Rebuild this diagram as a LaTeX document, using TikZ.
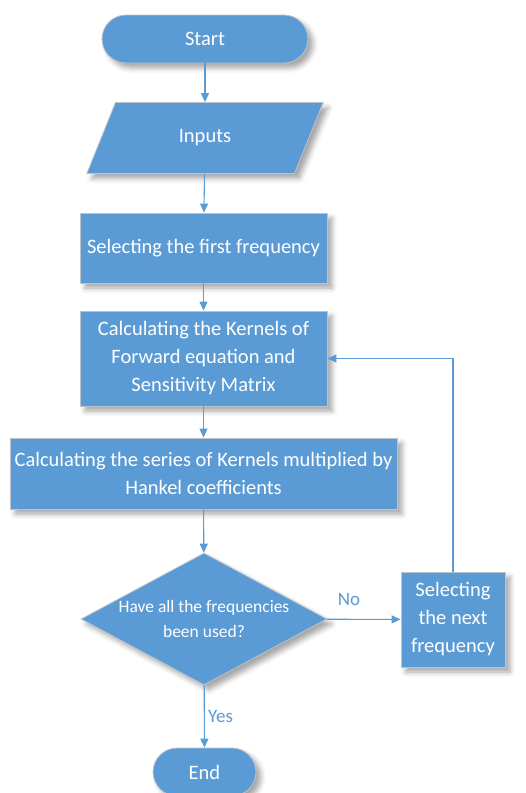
\documentclass[tikz,border=0pt]{standalone}
\usepackage{fontspec}
\setmainfont{Carlito}
\usetikzlibrary{shapes.geometric,arrows.meta,shadows.blur}
\definecolor{boxblue}{HTML}{5B9BD5}
\definecolor{edgegray}{HTML}{BDC3CA}
\tikzset{
  shape base/.style={fill=boxblue,draw=edgegray,line width=0.8pt,text=white,
    font=\fontsize{20.5}{28}\selectfont,align=center,inner sep=0pt,
    blur shadow={shadow xshift=5pt,shadow yshift=-5pt,shadow blur radius=5pt,shadow opacity=35}},
  terminal/.style={shape base,rectangle,rounded corners=24pt,minimum height=48pt},
  process/.style={shape base,rectangle},
  io/.style={shape base,trapezium,trapezium left angle=68,trapezium right angle=112,
    text width=59pt,text height=14pt,text depth=5pt,inner xsep=60pt,inner ysep=26pt},
  decision/.style={shape base,diamond,aspect=1.86,minimum width=246pt,minimum height=132pt,
    font=\fontsize{17.5}{25}\selectfont},
  flow/.style={draw=boxblue,line width=1.1pt,-{Triangle[width=8pt,length=9pt]}},
  answer/.style={text=boxblue,font=\fontsize{19}{22}\selectfont}
}
\begin{document}
\begin{tikzpicture}[x=1pt,y=-1pt]
\useasboundingbox (0,0) rectangle (526,793);
\node[terminal,minimum width=206pt] (start) at (205,39) {Start};
\node[io] (inputs) at (205,138) {Inputs};
\node[process,minimum width=247pt,minimum height=70pt] (first) at (203.5,248) {Selecting the first frequency};
\node[process,minimum width=247pt,minimum height=95pt] (kernels) at (203.5,358.5) {Calculating the Kernels of\\Forward equation and\\Sensitivity Matrix};
\node[process,minimum width=387pt,minimum height=71pt] (series) at (203.5,473.5) {Calculating the series of Kernels multiplied by\\Hankel coefficients};
\node[decision] (check) at (204,619) {Have all the frequencies\\been used?};
\node[process,minimum width=104pt,minimum height=95pt] (next) at (453,619.5) {Selecting\\the next\\frequency};
\node[terminal,minimum width=103pt] (stop) at (204.5,772) {End};
% connectors
\draw[flow] (start) -- (inputs);
\draw[flow] (inputs) -- (first);
\draw[flow] (first) -- (kernels);
\draw[flow] (kernels) -- (series);
\draw[flow] (series) -- (check);
\draw[flow] (check) -- node[answer,above,pos=0.3,yshift=10pt] (no) {No} (next);
\draw[flow] (check) -- node[answer,right,pos=0.5] (yes) {Yes} (stop);
\draw[flow] (next.north) |- (kernels.east);
\end{tikzpicture}
\end{document}
